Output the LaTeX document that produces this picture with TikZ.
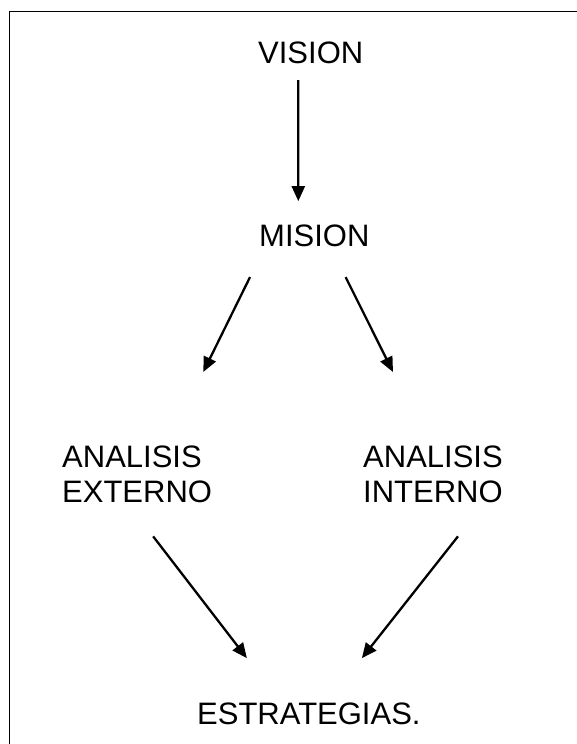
\documentclass[tikz,border=0pt]{standalone}
\usepackage{fontspec}
\setmainfont{Liberation Sans}
\usetikzlibrary{arrows.meta}

\begin{document}
\begin{tikzpicture}[x=1pt,y=-1pt,>={Triangle[length=15pt,width=13pt]},
  lbl/.style={inner sep=0pt,font=\fontsize{31}{35}\selectfont,align=left},
  flecha/.style={->,line width=2.3pt}]
\useasboundingbox (0,0) rectangle (576,744);
\draw[line width=1.8pt] (9.5,11.5) rectangle (600,770);
% textos
\node[lbl,anchor=base west] (vision) at (258,63) {VISION};
\node[lbl,anchor=base west] (mision) at (259,246) {MISION};
\node[lbl,anchor=north west] (externo) at (62,446) {ANALISIS\\EXTERNO};
\node[lbl,anchor=north west] (interno) at (363,446) {ANALISIS\\INTERNO};
\node[lbl,anchor=base west] (estrategias) at (197,724) {ESTRATEGIAS.};
% flechas
\draw[flecha] ([xshift=-12.5pt,yshift=-16.6pt]vision.south) -- ([xshift=-16pt,yshift=23pt]mision.north);
\draw[flecha] ([xshift=-9pt,yshift=-30.6pt]mision.south west) -- ([xshift=-9pt,yshift=74pt]externo.north east);
\draw[flecha] ([xshift=-24pt,yshift=-30.6pt]mision.south east) -- ([xshift=30pt,yshift=74pt]interno.north west);
\draw[flecha] ([xshift=16pt,yshift=-33pt]externo.south) -- ([xshift=-62pt,yshift=44pt]estrategias.north);
\draw[flecha] ([xshift=25pt,yshift=-33pt]interno.south) -- ([xshift=53pt,yshift=44pt]estrategias.north);
\end{tikzpicture}
\end{document}
